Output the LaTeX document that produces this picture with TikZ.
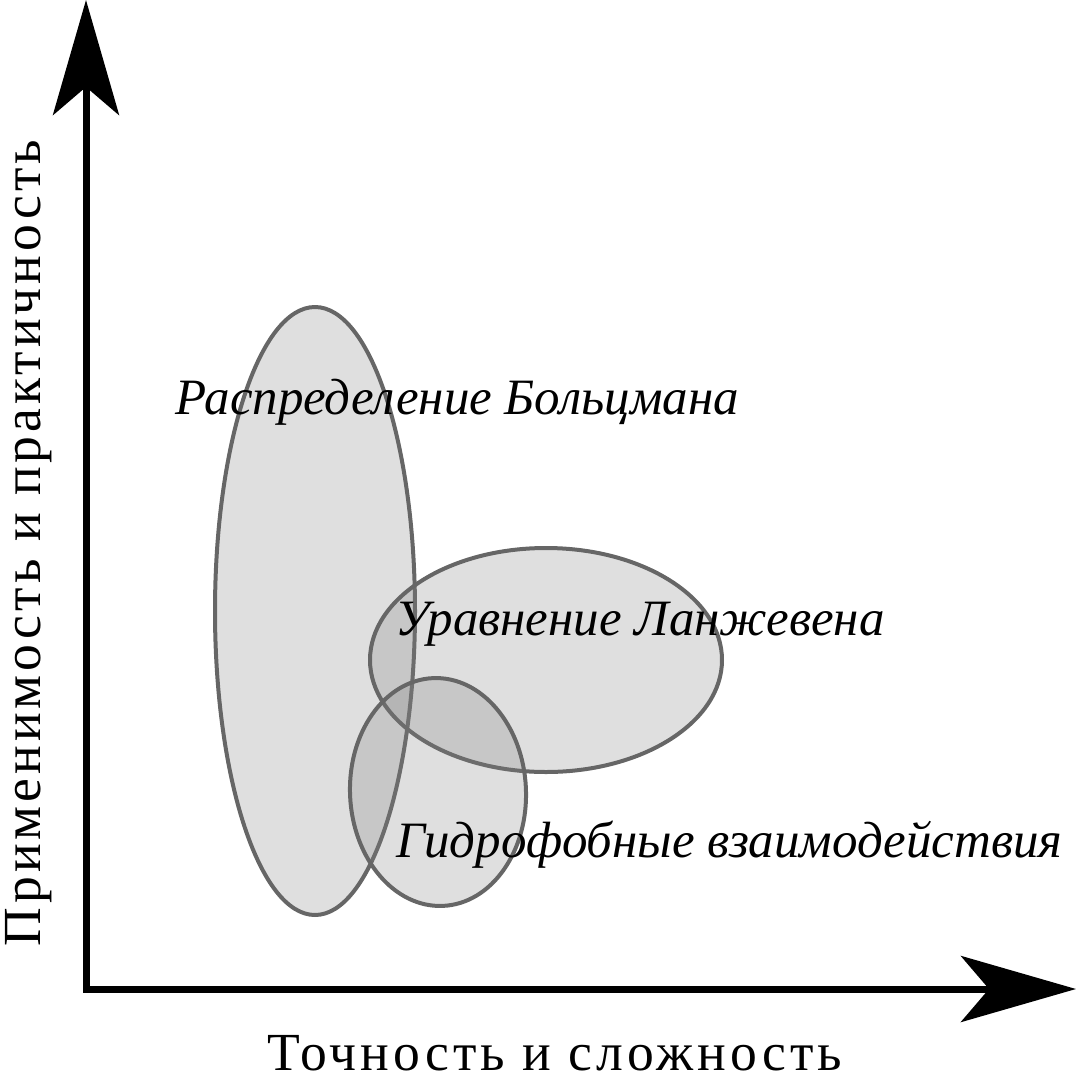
\documentclass[tikz,border=0pt]{standalone}
\usepackage{fontspec}
\setmainfont{Liberation Serif}
\usetikzlibrary{arrows.meta}
\begin{document}
\begin{tikzpicture}[x=0.02cm, y=-0.02cm,
    axis/.style={line width=0.14cm, line join=miter,
      {Stealth[length=2.3cm, width=1.32cm, inset=0.56cm]}-{Stealth[length=2.3cm, width=1.32cm, inset=0.56cm]}},
    region/.style={draw=black!60, line width=0.08cm, fill=gray, fill opacity=0.25},
    lbl/.style={inner sep=0pt, anchor=base west, font=\fontsize{29}{35}\selectfont\itshape},
    axlbl/.style={inner sep=0pt, anchor=base, font=\fontsize{30.5}{36}\selectfont\addfontfeatures{LetterSpace=7.5}}]
    \useasboundingbox (0,0) rectangle (1076,1079);

    % axes
    \coordinate (ytip) at (86,0);
    \coordinate (origin) at (86,989);
    \coordinate (xtip) at (1076,989);
    \draw[axis] (ytip) -- (origin) -- (xtip);

    % regions
    \draw[region] (315,611) ellipse [x radius=100, y radius=304];
    \draw[region] (546,660) ellipse [x radius=176, y radius=112];
    \draw[region, rotate around={2.5:(438,792)}] (438,792) ellipse [x radius=88, y radius=114];

    % labels
    \node[lbl] (boltz) at (175,414) {Распределение Больцмана};
    \node[lbl] (langevin) at (395,635) {Уравнение Ланжевена};
    \node[lbl] (hydro) at (396,857) {Гидрофобные взаимодействия};

    \node[axlbl] (xlabel) at (555,1070) {Точность и сложность};
    \node[axlbl, rotate=90] (ylabel) at (40,543) {Применимость и практичность};
  \end{tikzpicture}
\end{document}
